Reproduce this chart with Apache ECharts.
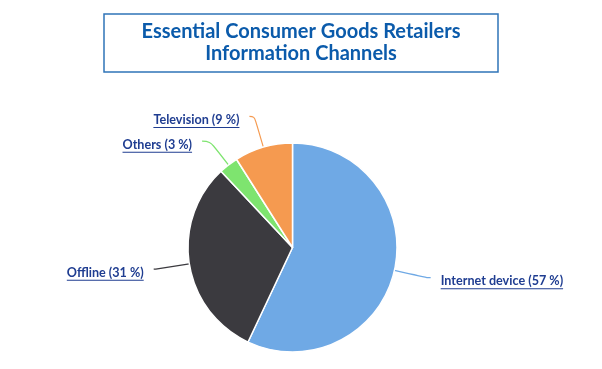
<!DOCTYPE html>
<html>
<head>
<meta charset="utf-8">
<script src="https://cdn.jsdelivr.net/npm/echarts@6/dist/echarts.min.js"></script>
<style>html,body{margin:0;padding:0;background:#fff}#c{width:602px;height:369px}</style>
</head>
<body>
<div id="c"></div>
<script>
const titleLines = ['Essential Consumer Goods Retailers', 'Information Channels'];
const categories = ['Internet device', 'Offline', 'Others', 'Television'];
const values = [57, 31, 3, 9];

const sliceColors = ['#6fa9e5', '#3b3a3f', '#7ee46f', '#f59a50'];
const lineLengths = [[34, 3], [34, 2], [30, 8], [32, 5]];

const chart = echarts.init(document.getElementById('c'), null, {renderer: 'canvas'});
const labelColor = '#1f3d91';
chart.setOption({
  animation: false,
  backgroundColor: '#ffffff',
  title: {
    text: titleLines.join('\n'),
    left: 'center',
    top: 14,
    padding: [7, 38, 7, 38],
    borderColor: '#2f74b8',
    borderWidth: 1.5,
    textStyle: {
      fontFamily: 'Lato',
      fontWeight: 'bold',
      fontSize: 20,
      lineHeight: 22,
      color: '#0b5bab'
    }
  },
  series: [{
    type: 'pie',
    center: [292.5, 247.5],
    radius: 104.5,
    startAngle: 90,
    clockwise: true,
    avoidLabelOverlap: false,
    itemStyle: {borderColor: '#ffffff', borderWidth: 1.5},
    label: {
      show: true,
      position: 'outside',
      distanceToLabelLine: 10,
      padding: [8, 0, 0, 0],
      formatter: p => '{t|' + p.name + ' (' + p.value + ' %)}\n{u| }',
      rich: {
        t: {fontFamily: 'Lato', fontWeight: 'bold', fontSize: 12.6, lineHeight: 14, color: labelColor},
        u: {height: 1, lineHeight: 1, fontSize: 1, width: '100%', backgroundColor: labelColor}
      }
    },
    labelLine: {smooth: 0.4, lineStyle: {width: 1.2}},
    data: categories.map((name, i) => ({
      name: name,
      value: values[i],
      itemStyle: {color: sliceColors[i]},
      labelLine: {length: lineLengths[i][0], length2: lineLengths[i][1], lineStyle: {color: sliceColors[i]}}
    }))
  }]
});
</script>
</body>
</html>
